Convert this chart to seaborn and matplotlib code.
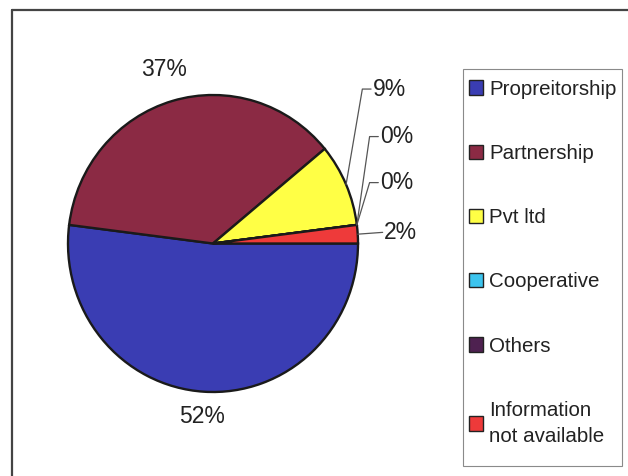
import numpy as np
import matplotlib
matplotlib.use("Agg")
import matplotlib.pyplot as plt
from matplotlib.lines import Line2D
from matplotlib.patches import Rectangle
import seaborn as sns

# ---- data ----
categories = ["Propreitorship", "Partnership", "Pvt ltd", "Cooperative", "Others",
              "Information\nnot available"]
values = [52, 37, 9, 0, 0, 2]
colors = ["#3A3DB3", "#8B2A44", "#FFFF45", "#3CC4EE", "#4E2150", "#EE3A3A"]

sns.set_theme(style="white")
plt.rcParams["font.family"] = ["Liberation Sans", "DejaVu Sans"]
TXT = "#222222"

W, H = 628, 476
fig = plt.figure(figsize=(W / 100, H / 100), dpi=100)
fig.patch.set_facecolor("white")

# pie axes placed in pixel box (ellipse 68..358 x, 95..392 y)
L, R, T, B = 68, 358, 95, 392
ax = fig.add_axes([L / W, 1 - B / H, (R - L) / W, (B - T) / H])
wedges, _ = ax.pie(values, colors=colors, startangle=0, counterclock=False,
                   radius=1.0, center=(0, 0),
                   wedgeprops=dict(edgecolor="#1a1a1a", linewidth=1.7))
for w in wedges:
    w.set_clip_on(False)
ax.set_aspect("auto")
ax.set_xlim(-1, 1)
ax.set_ylim(-1, 1)
ax.axis("off")

total = float(sum(values))
# stacked label positions for the small slices (data coords of the pie axes)
small_pos = {2: (1.10, 1.04), 3: (1.15, 0.72), 4: (1.15, 0.41), 5: (1.18, 0.075)}
for i, w in enumerate(wedges):
    pct = f"{round(100 * values[i] / total):.0f}%"
    mid = np.deg2rad((w.theta1 + w.theta2) / 2)
    if i in small_pos:
        tx, ty = small_pos[i]
        ex, ey = np.cos(mid), np.sin(mid)
        if i == 5:
            xs, ys = [ex, tx - 0.01], [ey, ty]
        else:
            xs, ys = [ex, tx - 0.07, tx - 0.01], [ey, ty, ty]
        ax.plot(xs, ys, color="#555555", lw=0.9, clip_on=False)
        ax.text(tx, ty, pct, ha="left", va="center", fontsize=16.5, color=TXT)
    else:
        r = 1.17 if i == 0 else 1.22
        ax.text(r * np.cos(mid), r * np.sin(mid), pct, ha="center", va="center",
                fontsize=16.5, color=TXT)

# legend
handles = [plt.Rectangle((0, 0), 1, 1, facecolor=c, edgecolor="#222222", lw=1.0)
           for c in colors]
leg = fig.legend(handles, categories, loc="upper left",
                 bbox_to_anchor=(463 / W, 1 - 74 / H), bbox_transform=fig.transFigure,
                 fontsize=14.8, labelspacing=2.2, handlelength=0.7, handleheight=0.7,
                 handletextpad=0.3, borderpad=0.28, borderaxespad=0,
                 frameon=False)
for t in leg.get_texts():
    t.set_color(TXT)
    t.set_linespacing(1.45)

# legend box
fig.add_artist(Rectangle((463 / W, 1 - 466 / H), (622 - 463) / W, (466 - 69) / H,
                         transform=fig.transFigure, facecolor="none",
                         edgecolor="#8a8a8a", lw=0.8))

# chart area border (left and top visible)
fig.add_artist(Line2D([12 / W, 12 / W], [0, 1 - 10 / H], color="#444444", lw=1.6,
                      transform=fig.transFigure))
fig.add_artist(Line2D([12 / W, 1], [1 - 10 / H, 1 - 10 / H], color="#444444", lw=1.6,
                      transform=fig.transFigure))

fig.savefig("out.png", dpi=100, facecolor="white")
